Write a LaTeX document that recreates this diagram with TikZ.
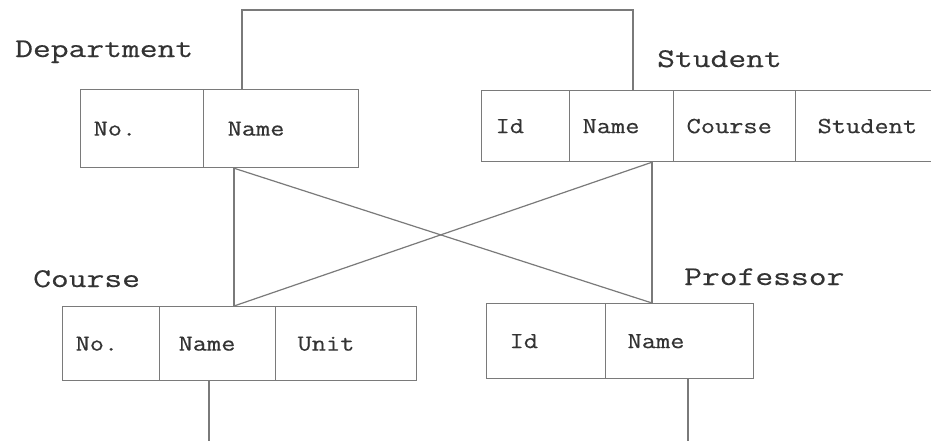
\documentclass[tikz,border=0pt]{standalone}
\usepackage{fontspec}
% Slab-serif typewriter faces, widened and slightly emboldened
\newfontfamily\cellfont[FakeStretch=1.2,FakeBold=0.4]{Latin Modern Mono}
\newfontfamily\titlefont[FakeStretch=1.28,FakeBold=0.4]{Latin Modern Mono}
\definecolor{edgegray}{HTML}{7A7A7A}
\definecolor{inkgray}{HTML}{333333}
\tikzset{
  cell/.style={draw=edgegray, line width=1.2pt, anchor=north west, inner ysep=0pt,
    align=left, text=inkgray, font=\cellfont\fontsize{23}{26}\selectfont,
    text height=14pt, text depth=0pt},
  tabletitle/.style={anchor=base west, inner sep=0pt, text=inkgray,
    font=\titlefont\fontsize{27}{30}\selectfont},
  link/.style={draw=edgegray, line width=1.2pt}
}
\begin{document}
\begin{tikzpicture}[x=1pt,y=-1pt]
\clip (0,0) rectangle (931,440);
\fill[white] (0,0) rectangle (931,440);

% Department
\node[tabletitle] (tdept) at (15,57) {Department};
\node[cell, minimum height=78pt, inner xsep=13pt, text width=97pt]  (dno)   at (80,89)  {No.};
\node[cell, minimum height=78pt, inner xsep=24pt, text width=107pt] (dname) at (203,89) {Name};

% Student
\node[tabletitle] (tstud) at (657,67) {Student};
\node[cell, minimum height=71pt, inner xsep=14pt, text width=60pt]  (sid)     at (481,90) {Id};
\node[cell, minimum height=71pt, inner xsep=13pt, text width=78pt]  (sname)   at (569,90) {Name};
\node[cell, minimum height=71pt, inner xsep=13pt, text width=96pt]  (scourse) at (673,90) {Course};
\node[cell, minimum height=71pt, inner xsep=22pt, text width=106pt] (sstud)   at (795,90) {Student};

% Course
\node[tabletitle] (tcourse) at (33,287) {Course};
\node[cell, minimum height=74pt, inner xsep=13pt, text width=71pt] (cno)   at (62,306)  {No.};
\node[cell, minimum height=74pt, inner xsep=19pt, text width=78pt] (cname) at (159,306) {Name};
\node[cell, minimum height=74pt, inner xsep=22pt, text width=97pt] (cunit) at (275,306) {Unit};

% Professor
\node[tabletitle] (tprof) at (684,285) {Professor};
\node[cell, minimum height=75pt, inner xsep=23pt, text width=73pt]  (pid)   at (486,303) {Id};
\node[cell, minimum height=75pt, inner xsep=22pt, text width=104pt] (pname) at (605,303) {Name};

% Connectors
\coordinate (ridge) at (437,10);
\coordinate (cdown) at (209,445);
\coordinate (pdown) at (688,445);

\draw[link] (dname.north -| 242,0) |- (ridge) -| (sname.north -| 633,0);
\draw[link] (dname.south -| 234,0) -- (cname.north -| 234,0);
\draw[link] (dname.south -| 234,0) -- (pname.north -| 652,0);
\draw[link] (sname.south -| 652,0) -- (pname.north -| 652,0);
\draw[link] (sname.south -| 652,0) -- (cname.north -| 234,0);
\draw[link] (cname.south -| 209,0) -- (cdown);
\draw[link] (pname.south -| 688,0) -- (pdown);
\end{tikzpicture}
\end{document}
